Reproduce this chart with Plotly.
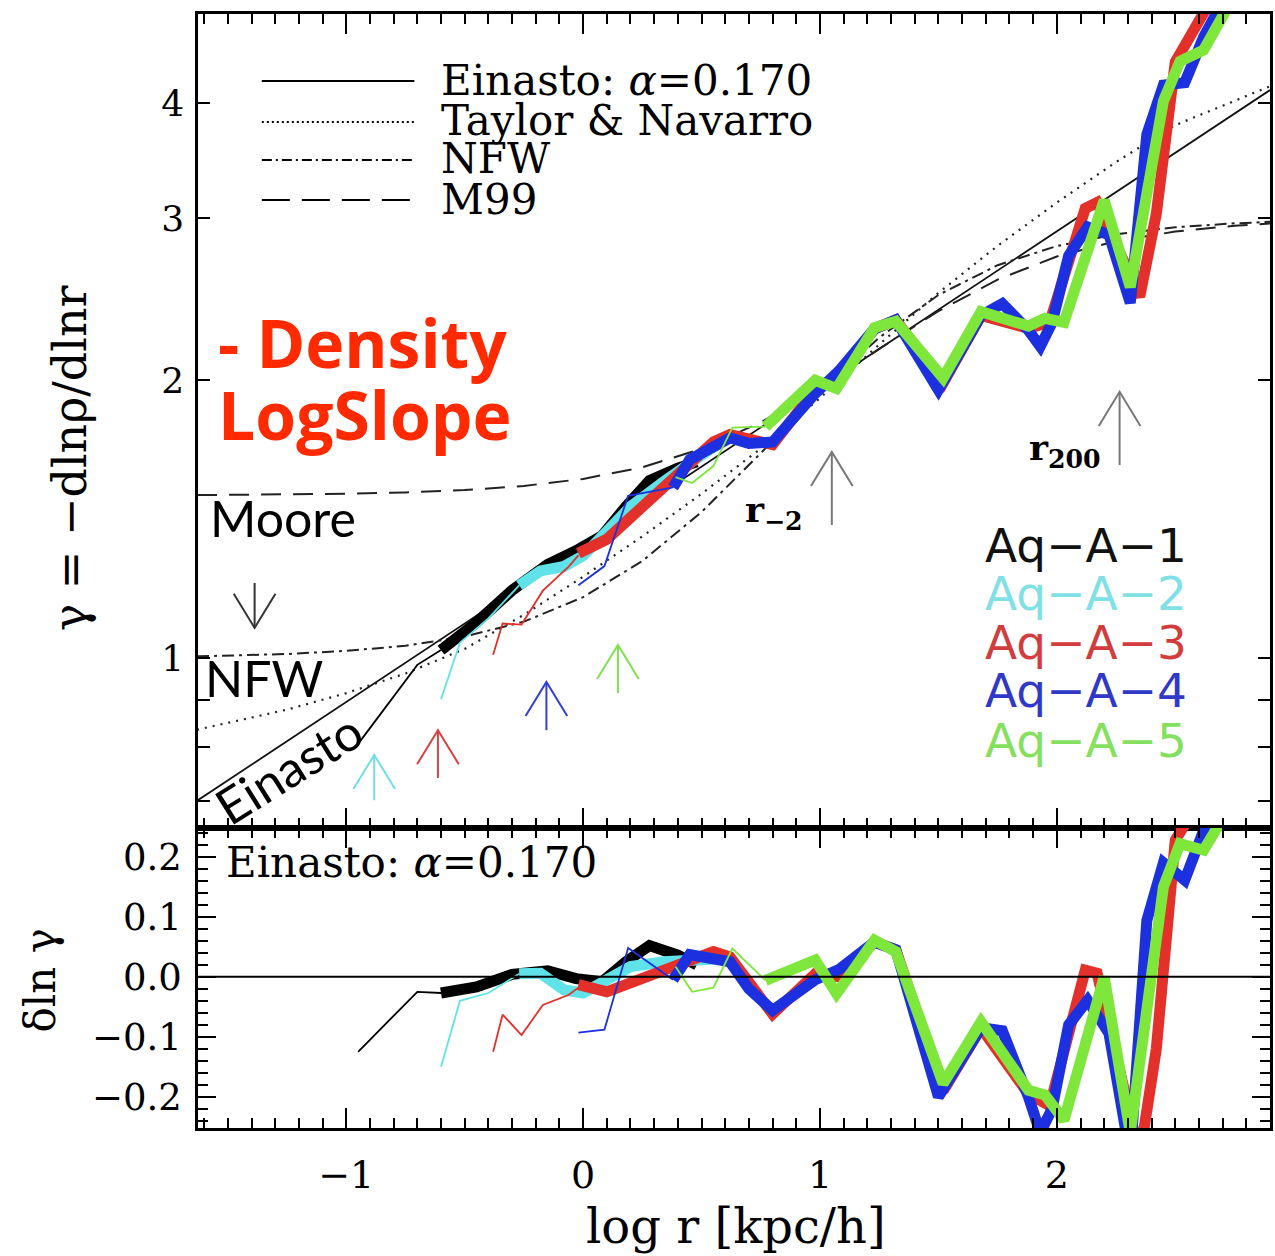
import math
import plotly.graph_objects as go

# ---------------- data ----------------
# model curves: x = log r [kpc/h], gamma = -dln rho / dln r
einasto_x = [-1.63, 2.90]
einasto_g = [0.70, 4.13]

model_x = [-1.63, -1.25, -1.0, -0.75, -0.5, -0.25, 0.0, 0.25, 0.5, 0.75,
           1.0, 1.25, 1.5, 1.75, 2.0, 2.25, 2.5, 2.75, 2.9]
tn_g = [0.836, 0.879, 0.916, 0.962, 1.023, 1.114, 1.225, 1.355, 1.507, 1.687,
        1.914, 2.188, 2.489, 2.799, 3.119, 3.451, 3.784, 4.018, 4.169]
nfw_g = [1.004, 1.010, 1.018, 1.031, 1.055, 1.095, 1.164, 1.274, 1.440, 1.668,
         1.943, 2.226, 2.476, 2.667, 2.798, 2.881, 2.932, 2.961, 2.972]
m99_g = [1.502, 1.504, 1.507, 1.512, 1.521, 1.537, 1.564, 1.610, 1.686, 1.801,
         1.963, 2.164, 2.378, 2.573, 2.726, 2.832, 2.901, 2.943, 2.959]

# Aq-A-1 (black)
a1_thin_x = [-0.95, -0.70, -0.60]
a1_thin_g = [0.807, 0.983, 1.020]
a1_thin_d = [-0.125, -0.025, -0.027]
a1_x = [-0.60, -0.45, -0.30, -0.15, -0.03, 0.08, 0.18, 0.28, 0.40, 0.48]
a1_g = [1.020, 1.093, 1.184, 1.263, 1.307, 1.357, 1.459, 1.558, 1.607, 1.632]
a1_d = [-0.027, -0.017, 0.004, 0.010, -0.003, -0.008, 0.025, 0.052, 0.036, 0.020]

# Aq-A-2 (cyan)
a2_thin_x = [-0.60, -0.52, -0.40, -0.27]
a2_thin_g = [0.902, 1.039, 1.104, 1.199]
a2_thin_d = [-0.150, -0.040, -0.027, 0.005]
a2_x = [-0.27, -0.18, -0.08, 0.0, 0.10, 0.20, 0.34, 0.48, 0.58]
a2_g = [1.199, 1.243, 1.257, 1.291, 1.372, 1.459, 1.553, 1.645, 1.715]
a2_d = [0.005, 0.006, -0.022, -0.027, -0.005, 0.017, 0.025, 0.028, 0.030]

# Aq-A-3 (red)
a3_thin_x = [-0.38, -0.34, -0.26, -0.17, -0.06, -0.02]
a3_thin_g = [1.008, 1.090, 1.087, 1.183, 1.257, 1.292]
a3_thin_d = [-0.125, -0.063, -0.097, -0.047, -0.030, -0.018]
a3_x = [-0.02, 0.10, 0.20, 0.34, 0.45, 0.55, 0.62, 0.80, 0.98, 1.08, 1.23, 1.32,
        1.52, 1.68, 1.88, 1.97, 2.12, 2.17, 2.35, 2.42, 2.50, 2.56, 2.63]
a3_g = [1.299, 1.345, 1.420, 1.533, 1.629, 1.715, 1.747, 1.704, 1.956, 2.024,
        2.275, 2.326, 1.988, 2.352, 2.278, 2.313, 3.074, 3.119, 2.465, 3.032,
        4.431, 4.731, 5.060]
a3_d = [-0.013, -0.025, -0.010, 0.012, 0.030, 0.042, 0.033, -0.062, 0.005, 0.0,
        0.058, 0.045, -0.190, -0.085, -0.195, -0.215, 0.011, 0.006, -0.300,
        -0.120, 0.228, 0.270, 0.310]

# Aq-A-4 (blue)
a4_thin_x = [-0.02, 0.09, 0.19, 0.38]
a4_thin_g = [1.199, 1.258, 1.499, 1.531]
a4_thin_d = [-0.093, -0.088, 0.048, -0.005]
a4_x = [0.38, 0.45, 0.62, 0.70, 0.80, 0.98, 1.08, 1.23, 1.32, 1.50, 1.68, 1.77,
        1.88, 1.93, 1.98, 2.05, 2.13, 2.22, 2.31, 2.38, 2.45, 2.54, 2.62, 2.70]
a4_g = [1.531, 1.641, 1.733, 1.709, 1.715, 1.936, 2.048, 2.275, 2.326, 1.953,
        2.352, 2.423, 2.267, 2.177, 2.311, 2.731, 2.935, 2.878, 2.427, 3.698,
        4.182, 4.208, 4.718, 5.151]
a4_d = [-0.005, 0.037, 0.025, -0.020, -0.056, -0.005, 0.012, 0.058, 0.045, -0.200,
        -0.085, -0.090, -0.200, -0.260, -0.220, -0.080, -0.039, -0.094, -0.300,
        0.094, 0.190, 0.161, 0.244, 0.300]

# Aq-A-5 (green)
a5_thin_x = [0.39, 0.46, 0.55, 0.63, 0.77]
a5_thin_g = [1.571, 1.548, 1.615, 1.778, 1.782]
a5_thin_d = [0.017, -0.025, -0.018, 0.047, -0.006]
a5_x = [0.77, 0.98, 1.07, 1.23, 1.32, 1.52, 1.68, 1.88, 1.95, 2.03, 2.20, 2.31,
        2.45, 2.52, 2.62, 2.68, 2.74]
a5_g = [1.782, 2.001, 1.960, 2.282, 2.319, 2.012, 2.375, 2.291, 2.336, 2.312,
        3.137, 2.526, 4.019, 4.439, 4.566, 4.861, 5.180]
a5_d = [-0.006, 0.028, -0.028, 0.061, 0.042, -0.178, -0.075, -0.189, -0.197,
        -0.239, 0.0, -0.260, 0.150, 0.222, 0.211, 0.250, 0.290]

# arrows: Moore marker (down), convergence radii (coloured), r_-2 and r_200 (grey)
arrow_x = [-1.387, -0.882, -0.613, -0.155, 0.147, 1.05, 2.265]
arrow_base = [1.206, 0.701, 0.741, 0.835, 0.916, 1.394, 1.619]
arrow_tip = [1.078, 0.785, 0.835, 0.942, 1.033, 1.673, 1.944]

sim_labels = ["Aq\u2212A\u22121", "Aq\u2212A\u22122", "Aq\u2212A\u22123",
              "Aq\u2212A\u22124", "Aq\u2212A\u22125"]
x_tick_vals = [-1, 0, 1, 2]
x_tick_text = ["\u22121", "0", "1", "2"]
y_top_ticks = [0.7, 0.8, 0.9, 1, 2, 3, 4]
y_top_text = [" ", " ", " ", "1", "2", "3", "4"]
y_bot_ticks = [-0.2, -0.1, 0.0, 0.1, 0.2]
y_bot_text = ["\u22120.2", "\u22120.1", "0.0", "0.1", "0.2"]

# ---------------- styling ----------------
C_BLACK = "#000000"
C_CYAN = "#5fe3e8"
C_RED = "#e4302a"
C_BLUE = "#1c30e0"
C_GREEN = "#7fe63c"
arrow_col = ["#333333", "#72dde6", "#d84444", "#3040d4", "#80e050", "#777777", "#777777"]
label_col = ["#111111", "#7fe0e6", "#d23c3c", "#3038c8", "#86e060"]

W, H = 1275, 1256
ML, MR, MT, MB = 198, 2, 14, 128
PW = W - ML - MR
PH = H - MT - MB
SPLIT = (1128 - 828) / PH
SERIF = "DejaVu Serif"

def P(xp, yp):
    return (xp - ML) / PW, (H - MB - yp) / PH

fig = go.Figure()

def add(x, y, color, width, dash="solid", top=True):
    fig.add_trace(go.Scatter(
        x=x, y=y, mode="lines", line=dict(color=color, width=width, dash=dash),
        xaxis="x" if top else "x2", yaxis="y" if top else "y2",
        showlegend=False, hoverinfo="skip"))

# model curves (top)
add(einasto_x, einasto_g, "#111111", 1.8)
add(model_x, tn_g, "#222222", 2.2, "2px,6px")
add(model_x, nfw_g, "#222222", 2.0, "12px,5px,3px,5px")
add(model_x, m99_g, "#222222", 2.0, "20px,12px")

series = [
    (a1_thin_x, a1_thin_g, a1_thin_d, a1_x, a1_g, a1_d, C_BLACK),
    (a2_thin_x, a2_thin_g, a2_thin_d, a2_x, a2_g, a2_d, C_CYAN),
    (a3_thin_x, a3_thin_g, a3_thin_d, a3_x, a3_g, a3_d, C_RED),
    (a4_thin_x, a4_thin_g, a4_thin_d, a4_x, a4_g, a4_d, C_BLUE),
    (a5_thin_x, a5_thin_g, a5_thin_d, a5_x, a5_g, a5_d, C_GREEN),
]
for tx, tg, td, kx, kg, kd, col in series:
    add(tx, tg, col, 1.8)
    add(kx, kg, col, 11)
    add(tx, td, col, 1.8, top=False)
    add(kx, kd, col, 11, top=False)

# arrows (shaft + open V head, built in log space of the top axis)
for ax_, b, t, col in zip(arrow_x, arrow_base, arrow_tip, arrow_col):
    add([ax_, ax_], [b, t], col, 2)
    lt = math.log10(t)
    back = -0.037 if t > b else 0.037
    wy = 10 ** (lt + back)
    add([ax_ - 0.088, ax_, ax_ + 0.088], [wy, t, wy], col, 2)

axis_common = dict(showline=True, linewidth=2.5, linecolor="black", mirror="ticks",
                   ticks="inside", tickwidth=2, tickcolor="black", showgrid=False,
                   zeroline=False)
xr = [-1.626, 2.90]
fig.update_layout(
    width=W, height=H, margin=dict(l=ML, r=MR, t=MT, b=MB),
    paper_bgcolor="white", plot_bgcolor="white", showlegend=False,
    xaxis=dict(domain=[0, 1], anchor="y", range=xr, tickvals=x_tick_vals,
               ticktext=x_tick_text, showticklabels=False, ticklen=20,
               minor=dict(dtick=0.1, tick0=0, ticklen=10, ticks="inside",
                          tickwidth=2, tickcolor="black"), **axis_common),
    yaxis=dict(domain=[SPLIT, 1], anchor="x", type="log",
               range=[-0.1844, 0.6985], tickvals=y_top_ticks, ticktext=y_top_text,
               ticklen=12, ticklabelstandoff=4,
               tickfont=dict(family=SERIF, size=36, color="black"), **axis_common),
    xaxis2=dict(domain=[0, 1], anchor="y2", range=xr, tickvals=x_tick_vals,
                ticktext=x_tick_text, ticklen=20, ticklabelstandoff=12,
                tickfont=dict(family=SERIF, size=38, color="black"),
                minor=dict(dtick=0.1, tick0=0, ticklen=10, ticks="inside",
                           tickwidth=2, tickcolor="black"), **axis_common),
    yaxis2=dict(domain=[0, SPLIT], anchor="x2", range=[-0.252, 0.248],
                tickvals=y_bot_ticks, ticktext=y_bot_text, ticklen=18,
                ticklabelstandoff=6,
                tickfont=dict(family=SERIF, size=37, color="black"),
                minor=dict(dtick=0.02, tick0=0, ticklen=10, ticks="inside",
                           tickwidth=2, tickcolor="black"), **axis_common),
)

# zero reference line in the residual panel
fig.add_shape(type="line", xref="x2 domain", yref="y2", x0=0, x1=1, y0=0, y1=0,
              line=dict(color="black", width=2))

# model legend samples
for yp, dash in zip([81, 122, 160, 200], ["solid", "2px,3px", "10px,4px,2px,4px", "28px,12px"]):
    x0, y0 = P(262, yp)
    x1, _ = P(415, yp)
    fig.add_shape(type="line", xref="paper", yref="paper", x0=x0, x1=x1, y0=y0, y1=y0,
                  line=dict(color="black", width=2, dash=dash))

def ann(text, xp, yp, size, color="black", family=SERIF, xanchor="left", angle=0):
    x, y = P(xp, yp)
    fig.add_annotation(text=text, x=x, y=y, xref="paper", yref="paper",
                       xanchor=xanchor, yanchor="middle", showarrow=False,
                       textangle=angle, font=dict(family=family, size=size, color=color))

for txt, yp in zip(["Einasto: <i>\u03b1</i>=0.170", "Taylor &amp; Navarro", "NFW", "M99"],
                   [80, 121, 159, 199]):
    ann(txt, 440, yp, 42)

ann("Einasto: <i>\u03b1</i>=0.170", 224, 862, 42)

for lab, col, yp in zip(sim_labels, label_col, [545, 594, 642, 690, 740]):
    ann(lab, 985, yp, 47, col, "DejaVu Sans")

ann("<b>- Density</b>", 216, 342, 66, "#ff2a00", "Open Sans")
ann("<b>LogSlope</b>", 216, 414, 66, "#ff2a00", "Open Sans")
ann("Moore", 208, 518, 50, "black", "Lato")
ann("NFW", 203, 678, 50, "black", "Lato")
ann("Einasto", 289, 768, 50, "black", "Lato", xanchor="center", angle=-32)

ann("<b>r</b><sub><b>\u22122</b></sub>", 776, 512, 36, "black", SERIF, xanchor="center")
ann("<b>r</b><sub><b>200</b></sub>", 1067, 450, 36, "black", SERIF, xanchor="center")

ann("\u03b3 = \u2212dln\u03c1/dlnr", 70, 458, 46, "black", SERIF, xanchor="center", angle=-90)
ann("\u03b4ln \u03b3", 40, 980, 42, "black", SERIF, xanchor="center", angle=-90)
ann("log r [kpc/h]", 738, 1226, 48, "black", SERIF, xanchor="center")

fig.write_html("out.html")
